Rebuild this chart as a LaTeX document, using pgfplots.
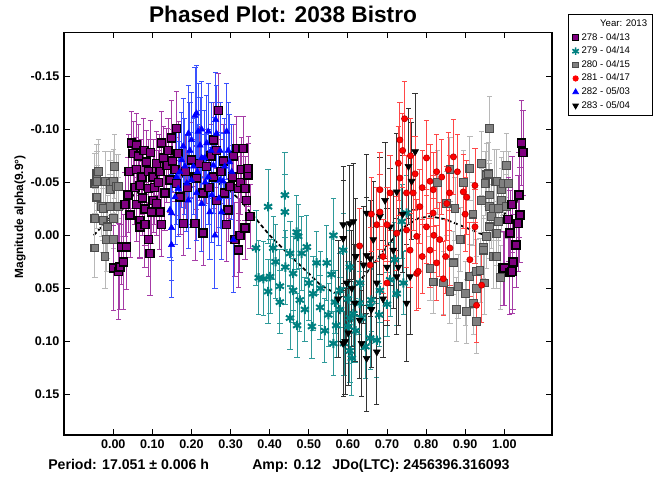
\documentclass[border=0pt]{standalone}
\usepackage{fontspec}
\setmainfont{Liberation Sans}
\usepackage{pgfplots}
\pgfplotsset{compat=1.18}
\usepackage{pgfplotstable}

\definecolor{c278}{HTML}{800080}
\definecolor{e278}{HTML}{A63CA6}
\definecolor{c279}{HTML}{008080}
\definecolor{e279}{HTML}{2E9A9A}
\definecolor{c280}{HTML}{808080}
\definecolor{e280}{HTML}{B8B8B8}
\definecolor{c281}{HTML}{FF0000}
\definecolor{e281}{HTML}{FF4848}
\definecolor{c282}{HTML}{0000FF}
\definecolor{e282}{HTML}{3A52FF}
\definecolor{c283}{HTML}{000000}
\definecolor{e283}{HTML}{333333}

% session 278 - 04/13
\pgfplotstableread{
x y e
0.000 0.031 0.040
0.013 0.034 0.045
0.017 0.030 0.040
0.021 0.011 0.035
0.026 0.025 0.045
0.030 -0.029 0.030
0.034 0.011 0.040
0.038 -0.038 0.035
0.040 -0.060 0.035
0.043 -0.019 0.040
0.047 -0.087 0.030
0.051 -0.077 0.030
0.055 -0.045 0.035
0.060 -0.085 0.030
0.060 -0.062 0.030
0.060 -0.029 0.035
0.065 -0.075 0.030
0.068 -0.047 0.035
0.068 -0.014 0.035
0.068 -0.008 0.030
0.073 -0.055 0.035
0.075 -0.035 0.035
0.078 -0.080 0.030
0.081 -0.010 0.040
0.081 -0.025 0.035
0.085 -0.069 0.030
0.090 -0.060 0.030
0.090 -0.044 0.035
0.090 0.004 0.035
0.094 0.017 0.040
0.095 -0.078 0.030
0.098 -0.022 0.030
0.102 -0.033 0.030
0.102 -0.055 0.035
0.105 -0.045 0.035
0.110 -0.068 0.030
0.111 -0.030 0.030
0.115 -0.050 0.030
0.119 -0.022 0.035
0.119 -0.060 0.035
0.124 -0.087 0.030
0.124 -0.010 0.030
0.128 -0.073 0.030
0.132 -0.040 0.035
0.137 -0.066 0.035
0.140 -0.080 0.030
0.145 -0.052 0.030
0.149 -0.092 0.035
0.152 -0.070 0.030
0.158 -0.062 0.030
0.162 -0.101 0.035
0.162 -0.049 0.030
0.166 -0.077 0.030
0.171 -0.036 0.035
0.179 -0.011 0.030
0.185 -0.060 0.035
0.190 -0.045 0.035
0.200 -0.071 0.035
0.209 -0.055 0.035
0.209 -0.011 0.035
0.213 -0.054 0.030
0.220 -0.068 0.035
0.230 -0.002 0.030
0.230 -0.040 0.035
0.239 -0.065 0.035
0.245 -0.045 0.035
0.250 -0.075 0.030
0.256 -0.055 0.030
0.256 -0.090 0.035
0.264 -0.080 0.035
0.264 -0.033 0.030
0.269 -0.118 0.035
0.275 -0.060 0.030
0.282 -0.070 0.035
0.285 -0.040 0.030
0.290 -0.010 0.035
0.294 -0.024 0.030
0.298 -0.046 0.030
0.305 -0.055 0.030
0.308 -0.075 0.030
0.311 0.004 0.035
0.316 -0.082 0.030
0.320 0.014 0.035
0.320 -0.044 0.030
0.324 0.000 0.035
0.325 -0.050 0.030
0.328 -0.062 0.030
0.332 -0.082 0.030
0.337 -0.044 0.030
0.337 -0.007 0.030
0.341 -0.033 0.030
0.345 -0.057 0.030
0.345 -0.063 0.030
0.350 -0.018 0.030
0.997 0.031 0.035
1.000 0.031 0.035
1.010 -0.015 0.040
1.014 0.035 0.040
1.015 -0.002 0.040
1.020 -0.029 0.045
1.020 0.034 0.040
1.022 0.025 0.045
1.030 0.009 0.040
1.035 -0.011 0.045
1.038 -0.038 0.040
1.040 -0.019 0.045
1.044 -0.087 0.040
1.048 -0.078 0.040
}\dataA

% session 279 - 04/14
\pgfplotstableread{
x y e
0.365 0.012 0.035
0.372 0.040 0.035
0.384 0.041 0.035
0.396 -0.027 0.035
0.396 0.053 0.030
0.401 0.039 0.035
0.409 0.012 0.030
0.415 0.025 0.035
0.426 0.048 0.035
0.426 0.063 0.030
0.439 -0.038 0.040
0.439 -0.022 0.035
0.440 0.030 0.035
0.452 0.017 0.030
0.452 0.078 0.030
0.460 0.036 0.035
0.460 0.052 0.030
0.469 -0.003 0.035
0.470 0.085 0.030
0.473 0.001 0.030
0.477 0.061 0.030
0.482 0.017 0.035
0.490 0.070 0.030
0.495 0.011 0.030
0.500 0.045 0.035
0.508 0.086 0.030
0.511 0.055 0.035
0.520 0.026 0.030
0.529 0.068 0.030
0.530 0.050 0.035
0.541 0.090 0.030
0.546 0.026 0.035
0.550 0.075 0.030
0.558 0.037 0.035
0.563 0.000 0.035
0.563 0.102 0.030
0.567 0.063 0.030
0.570 0.085 0.030
0.580 0.052 0.035
0.580 0.070 0.030
0.588 0.014 0.035
0.590 0.102 0.030
0.600 0.060 0.035
0.601 0.086 0.035
0.605 0.030 0.035
0.605 0.078 0.030
0.605 0.109 0.030
0.610 0.116 0.035
0.614 0.074 0.030
0.620 0.090 0.030
0.630 0.064 0.030
0.631 0.045 0.035
0.635 0.078 0.030
0.645 0.105 0.030
0.657 0.067 0.035
0.657 0.097 0.030
0.660 0.061 0.030
0.674 0.099 0.035
0.680 0.075 0.030
0.682 0.052 0.030
0.700 0.065 0.030
0.708 0.042 0.035
0.720 0.023 0.035
0.725 0.055 0.030
0.738 -0.013 0.035
0.742 0.045 0.030
0.750 -0.021 0.035
}\dataB

% session 280 - 04/15
\pgfplotstableread{
x y e
-0.047 -0.049 0.028
-0.047 -0.016 0.028
-0.047 0.012 0.028
-0.042 -0.058 0.028
-0.042 -0.051 0.028
-0.042 -0.036 0.030
-0.038 -0.060 0.030
-0.030 -0.027 0.028
-0.026 -0.025 0.030
-0.026 -0.014 0.030
-0.021 -0.051 0.028
-0.021 0.020 0.030
-0.017 0.004 0.030
-0.014 -0.008 0.030
-0.008 -0.049 0.030
-0.008 -0.043 0.028
-0.008 -0.027 0.030
0.000 -0.051 0.030
0.000 -0.016 0.028
0.000 0.004 0.030
0.004 -0.065 0.030
0.009 -0.046 0.030
0.013 -0.046 0.030
0.013 -0.027 0.028
0.810 0.031 0.030
0.818 0.044 0.030
0.830 -0.050 0.030
0.844 0.045 0.030
0.853 -0.030 0.030
0.861 -0.062 0.030
0.861 0.053 0.030
0.870 0.026 0.030
0.874 -0.025 0.030
0.878 0.070 0.030
0.882 0.048 0.030
0.887 0.004 0.030
0.895 -0.050 0.030
0.900 0.055 0.030
0.904 0.072 0.030
0.912 -0.063 0.030
0.912 0.039 0.030
0.920 -0.020 0.030
0.921 0.064 0.030
0.929 0.034 0.030
0.929 0.050 0.030
0.929 0.081 0.030
0.938 0.033 0.030
0.942 -0.068 0.030
0.942 -0.033 0.030
0.946 0.011 0.030
0.946 0.014 0.030
0.950 0.045 0.030
0.951 -0.049 0.030
0.955 -0.057 0.030
0.955 0.001 0.030
0.960 -0.058 0.030
0.963 -0.101 0.030
0.963 -0.038 0.030
0.963 -0.027 0.030
0.963 -0.008 0.030
0.968 -0.018 0.030
0.972 -0.025 0.030
0.972 0.020 0.030
0.976 -0.051 0.030
0.981 -0.051 0.030
0.981 -0.002 0.030
0.981 0.020 0.030
0.985 -0.013 0.030
0.985 -0.025 0.030
0.990 0.040 0.030
0.993 -0.043 0.030
0.993 -0.033 0.030
0.997 -0.049 0.030
1.006 -0.066 0.030
1.006 -0.027 0.030
1.010 -0.049 0.030
}\dataC

% session 281 - 04/17
\pgfplotstableread{
x y e
0.630 0.010 0.035
0.657 0.028 0.035
0.660 -0.020 0.035
0.674 -0.010 0.035
0.682 -0.022 0.035
0.682 -0.043 0.035
0.690 0.020 0.035
0.700 0.045 0.035
0.700 -0.010 0.035
0.708 -0.040 0.035
0.725 -0.002 0.035
0.729 -0.068 0.035
0.733 -0.054 0.035
0.733 -0.090 0.035
0.740 -0.080 0.035
0.745 -0.110 0.035
0.750 -0.040 0.035
0.750 -0.005 0.035
0.759 0.014 0.035
0.760 -0.075 0.035
0.767 -0.040 0.035
0.772 -0.058 0.035
0.776 0.001 0.035
0.776 0.036 0.035
0.780 0.034 0.035
0.784 -0.027 0.035
0.790 -0.045 0.035
0.790 0.020 0.035
0.801 -0.073 0.035
0.801 -0.008 0.035
0.810 -0.051 0.035
0.810 0.014 0.035
0.818 -0.043 0.035
0.818 -0.021 0.035
0.820 0.000 0.035
0.827 -0.060 0.035
0.827 0.026 0.035
0.835 0.004 0.035
0.840 -0.055 0.035
0.844 0.041 0.035
0.850 0.020 0.035
0.853 -0.030 0.035
0.857 -0.062 0.035
0.860 -0.040 0.035
0.861 0.012 0.035
0.870 -0.074 0.035
0.880 -0.060 0.035
0.895 -0.041 0.035
0.900 -0.020 0.035
0.904 -0.036 0.035
0.912 0.023 0.035
0.925 -0.047 0.035
0.925 -0.008 0.035
0.929 0.066 0.035
0.942 0.047 0.035
}\dataD

% session 282 - 05/03
\pgfplotstableread{
x y e
0.145 -0.024 0.045
0.149 -0.007 0.050
0.149 0.009 0.050
0.149 -0.021 0.045
0.158 -0.036 0.045
0.162 -0.055 0.045
0.166 -0.044 0.045
0.170 -0.060 0.045
0.175 -0.071 0.045
0.179 -0.084 0.045
0.183 -0.065 0.045
0.188 -0.049 0.045
0.192 -0.096 0.045
0.192 -0.033 0.045
0.196 -0.080 0.045
0.200 -0.052 0.045
0.200 -0.090 0.045
0.205 -0.065 0.045
0.209 -0.113 0.045
0.213 -0.115 0.045
0.213 -0.040 0.045
0.215 -0.060 0.045
0.217 -0.098 0.045
0.222 -0.085 0.045
0.226 -0.073 0.045
0.226 -0.100 0.045
0.226 -0.030 0.045
0.234 -0.073 0.045
0.235 -0.050 0.045
0.239 -0.087 0.045
0.243 -0.055 0.045
0.243 -0.098 0.045
0.247 -0.022 0.045
0.250 -0.080 0.045
0.252 -0.038 0.045
0.256 -0.066 0.045
0.260 0.000 0.050
0.262 -0.109 0.045
0.264 -0.096 0.045
0.270 -0.035 0.045
0.273 -0.080 0.045
0.273 -0.052 0.045
0.277 -0.022 0.045
0.281 -0.051 0.045
0.285 -0.065 0.045
0.290 -0.098 0.045
0.294 -0.080 0.045
0.298 -0.069 0.045
0.303 -0.060 0.045
0.307 0.004 0.050
}\dataE

% session 283 - 05/04
\pgfplotstableread{
x y e
0.575 0.060 0.055
0.588 -0.010 0.055
0.588 0.003 0.055
0.588 0.102 0.050
0.593 0.100 0.050
0.597 0.045 0.055
0.601 0.092 0.050
0.605 -0.011 0.055
0.610 0.050 0.055
0.614 -0.013 0.055
0.618 0.064 0.055
0.620 0.020 0.055
0.630 0.080 0.055
0.635 0.102 0.050
0.640 0.028 0.055
0.648 -0.021 0.055
0.648 0.019 0.055
0.648 0.116 0.050
0.657 0.022 0.055
0.660 0.070 0.055
0.665 0.004 0.055
0.674 0.045 0.055
0.674 0.110 0.050
0.682 -0.018 0.055
0.690 0.060 0.055
0.695 -0.033 0.055
0.700 0.030 0.055
0.708 -0.008 0.055
0.716 0.014 0.055
0.725 -0.041 0.055
0.725 0.039 0.055
0.729 0.030 0.055
0.740 -0.020 0.055
0.750 0.064 0.055
0.755 -0.065 0.055
0.759 0.039 0.055
0.763 -0.051 0.055
0.772 -0.079 0.055
}\dataF

% fitted curve
\pgfplotstableread{
x y
-0.050 0.000
-0.030 -0.008
-0.010 -0.016
0.010 -0.024
0.034 -0.033
0.060 -0.040
0.094 -0.046
0.130 -0.051
0.170 -0.055
0.210 -0.056
0.250 -0.053
0.290 -0.045
0.325 -0.033
0.350 -0.022
0.375 -0.011
0.400 0.000
0.430 0.011
0.460 0.022
0.500 0.036
0.530 0.047
0.570 0.055
0.600 0.052
0.630 0.043
0.660 0.030
0.700 0.010
0.740 -0.007
0.780 -0.016
0.810 -0.018
0.850 -0.015
0.890 -0.009
0.930 -0.003
0.950 0.000
0.970 -0.008
0.990 -0.016
1.010 -0.024
1.034 -0.033
1.050 -0.038
}\dataFit

\begin{document}
\begin{tikzpicture}
\path[use as bounding box] (-48pt,-30.75pt) rectangle (442.5pt,326.25pt);
\begin{axis}[
    at={(0pt,0pt)}, anchor=south west,
    scale only axis,
    width=366pt, height=302pt,
    xmin=-0.126, xmax=1.122,
    ymin=-0.1915, ymax=0.1884,
    y dir=reverse,
    xtick={0,0.1,0.2,0.3,0.4,0.5,0.6,0.7,0.8,0.9,1.0},
    xticklabels={0.00,0.10,0.20,0.30,0.40,0.50,0.60,0.70,0.80,0.90,1.00},
    ytick={-0.15,-0.1,-0.05,0,0.05,0.1,0.15},
    yticklabels={-0.15,-0.10,-0.05,0.00,0.05,0.10,0.15},
    tick align=inside,
    major tick length=4.5pt,
    tick style={black, line width=0.6pt},
    axis line style={line width=1pt},
    every tick label/.append style={font=\fontsize{9.4}{11}\selectfont\bfseries},
    legend style={at={(1.0328,1.0455)}, anchor=north west,
        font=\fontsize{7.2}{8.5}\selectfont, draw=black, line width=0.6pt,
        inner sep=2pt, row sep=-0.5pt, cells={anchor=west}},
    legend image code/.code={\draw[#1] plot coordinates {(0.12cm,0cm)};},
]
\addlegendimage{empty legend}
\addlegendentry{\hspace*{14pt}Year: 2013}
\addlegendimage{only marks, mark=square*, mark size=2.2pt, mark options={fill=c278, draw=black, line width=0.8pt}}
\addlegendentry{278 - 04/13}
\addlegendimage{only marks, mark=asterisk, mark size=2.8pt, mark options={draw=c279, line width=1.2pt}}
\addlegendentry{279 - 04/14}
\addlegendimage{only marks, mark=square*, mark size=2.2pt, mark options={fill=c280, draw=black!70, line width=0.6pt}}
\addlegendentry{280 - 04/15}
\addlegendimage{only marks, mark=*, mark size=2pt, mark options={fill=c281, draw=c281}}
\addlegendentry{281 - 04/17}
\addlegendimage{only marks, mark=triangle*, mark size=2.4pt, mark options={fill=c282, draw=c282}}
\addlegendentry{282 - 05/03}
\addlegendimage{only marks, mark=triangle*, mark size=2.4pt, mark options={rotate=180, fill=black, draw=black}}
\addlegendentry{283 - 05/04}

% fit underneath the points
\addplot[forget plot, black, line width=1.3pt, densely dashed, no marks] table[x=x, y=y] {\dataFit};

\addplot[forget plot, only marks, mark=square*, mark size=2.9pt,
    mark options={fill=c280, draw=black!70, line width=0.8pt},
    error bars/.cd, y dir=both, y explicit,
    error bar style={color=e280, line width=0.7pt},
    error mark options={rotate=90, mark size=2pt, color=e280, line width=0.7pt}]
    table[x=x, y=y, y error=e] {\dataC};

\addplot[forget plot, only marks, mark=square*, mark size=3pt,
    mark options={fill=c278, draw=black, line width=1.1pt},
    error bars/.cd, y dir=both, y explicit,
    error bar style={color=e278, line width=0.7pt},
    error mark options={rotate=90, mark size=2pt, color=e278, line width=0.7pt}]
    table[x=x, y=y, y error=e] {\dataA};

\addplot[forget plot, only marks, mark=asterisk, mark size=3.5pt,
    mark options={draw=c279, line width=1.5pt},
    error bars/.cd, y dir=both, y explicit,
    error bar style={color=e279, line width=0.7pt},
    error mark options={rotate=90, mark size=2pt, color=e279, line width=0.7pt}]
    table[x=x, y=y, y error=e] {\dataB};

\addplot[forget plot, only marks, mark=triangle*, mark size=3pt,
    mark options={rotate=180, fill=black, draw=black},
    error bars/.cd, y dir=both, y explicit,
    error bar style={color=e283, line width=0.7pt},
    error mark options={rotate=90, mark size=2pt, color=e283, line width=0.7pt}]
    table[x=x, y=y, y error=e] {\dataF};

\addplot[forget plot, only marks, mark=*, mark size=2.3pt,
    mark options={fill=c281, draw=red!75!black, line width=0.5pt},
    error bars/.cd, y dir=both, y explicit,
    error bar style={color=e281, line width=0.7pt},
    error mark options={rotate=90, mark size=2pt, color=e281, line width=0.7pt}]
    table[x=x, y=y, y error=e] {\dataD};

\addplot[forget plot, only marks, mark=triangle*, mark size=2.7pt,
    mark options={fill=c282, draw=c282},
    error bars/.cd, y dir=both, y explicit,
    error bar style={color=e282, line width=0.7pt},
    error mark options={rotate=90, mark size=2pt, color=e282, line width=0.7pt}]
    table[x=x, y=y, y error=e] {\dataE};
\end{axis}

\node[anchor=base, font=\fontsize{17}{19}\selectfont\bfseries] at (164.25pt,309pt) {Phased Plot: 2038 Bistro};
\node[rotate=90, font=\fontsize{8.9}{10}\selectfont\bfseries] at (-33pt,163.5pt) {Magnitude alpha(9.9°)};
\node[anchor=base west, font=\fontsize{10.6}{13}\selectfont\bfseries, inner sep=0pt] at (-12pt,-25.5pt) {Period: 17.051 ± 0.006 h};
\node[anchor=base west, font=\fontsize{10.6}{13}\selectfont\bfseries, inner sep=0pt] at (141pt,-25.5pt) {Amp: 0.12};
\node[anchor=base west, font=\fontsize{10.6}{13}\selectfont\bfseries, inner sep=0pt] at (201pt,-25.5pt) {JDo(LTC): 2456396.316093};
\end{tikzpicture}
\end{document}
